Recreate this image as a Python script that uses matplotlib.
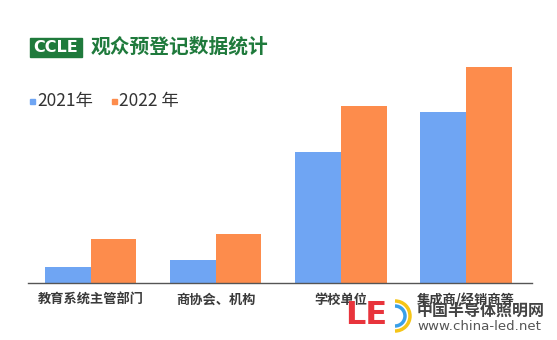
import matplotlib.pyplot as plt
from matplotlib.patches import Rectangle, Arc

plt.rcParams['font.family'] = ['Noto Sans CJK SC', 'DejaVu Sans']

# 观众预登记数据
categories = ['教育系统主管部门', '商协会、机构', '学校单位', '集成商/经销商等']
years = ['2021年', '2022 年']
v2021 = [16, 23, 131, 171]
v2022 = [44, 49, 177, 216]

c2021 = '#6fa5f3'
c2022 = '#fd8c4c'
green = '#1f7a3c'

fig = plt.figure(figsize=(5.57, 3.40), dpi=100)
W, H = 557, 340
ax = fig.add_axes([28 / W, (H - 283) / H, (532 - 28) / W, (283 - 60) / H])

x = list(range(len(categories)))
w = 0.367
ax.bar([i - w / 2 for i in x], v2021, w, color=c2021)
ax.bar([i + w / 2 for i in x], v2022, w, color=c2022)

ax.set_xlim(-0.5, 3.53)
ax.set_ylim(0, 223)
ax.set_yticks([])
ax.set_xticks(x)
ax.set_xticklabels(categories, fontsize=9.5, color='#3a3a3a', fontweight='bold')
ax.tick_params(axis='x', length=0, pad=7)
for s in ['top', 'right', 'left']:
    ax.spines[s].set_visible(False)
ax.spines['bottom'].set_color('#555555')
ax.spines['bottom'].set_linewidth(1.0)

# 标题：CCLE 标志 + 文字
fig.patches.append(Rectangle((30 / W, (H - 57) / H), 52 / W, 19 / H,
                             transform=fig.transFigure, color=green))
fig.text(56 / W, (H - 47.5) / H, 'CCLE', color='white', fontsize=11.5,
         fontweight='bold', ha='center', va='center', family='DejaVu Sans')
fig.text(91 / W, (H - 47) / H, '观众预登记数据统计', color=green, fontsize=14.2,
         fontweight='bold', ha='left', va='center')

# 图例
for xs, col, lab in [(30, c2021, years[0]), (112, c2022, years[1])]:
    fig.patches.append(Rectangle((xs / W, (H - 104) / H), 5 / W, 5 / H,
                                 transform=fig.transFigure, color=col))
    fig.text((xs + 7) / W, (H - 101) / H, lab, color='#333333', fontsize=12.5,
             ha='left', va='center')

# 水印
fig.text(345 / W, (H - 316) / H, 'LE', color='#e8343c', fontsize=23,
         fontweight='bold', ha='left', va='center', family='DejaVu Sans')
for r, col in [(30, '#f5c518'), (20, '#3aa0e8')]:
    fig.patches.append(Arc((395 / W, (H - 316) / H), r / W, r / H, theta1=-90, theta2=90,
                           transform=fig.transFigure, color=col, lw=2.5))
fig.text(417 / W, (H - 311) / H, '中国半导体照明网', color='#444444', fontsize=11.5,
         fontweight='bold', ha='left', va='center')
fig.text(417 / W, (H - 326) / H, 'www.china-led.net', color='#555555', fontsize=9.6,
         ha='left', va='center', family='DejaVu Sans')

fig.savefig('out.png', dpi=100, facecolor='white')
